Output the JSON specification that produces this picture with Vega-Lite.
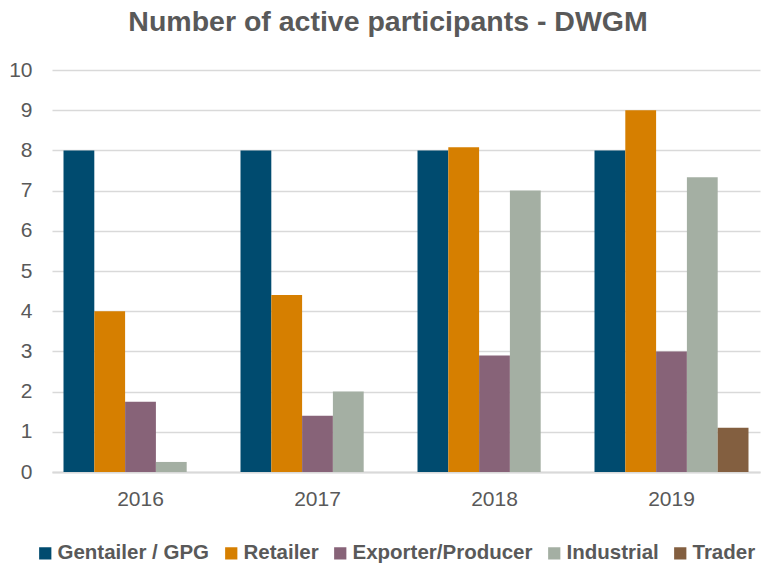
{
  "$schema": "https://vega.github.io/schema/vega-lite/v6.json",
  "width": 708,
  "height": 402,
  "autosize": "none",
  "padding": {"left": 52, "top": 70, "right": 1, "bottom": 91},
  "background": "white",
  "config": {"view": {"stroke": null}},
  "title": {
    "text": "Number of active participants - DWGM",
    "font": "Liberation Sans",
    "fontSize": 28.5,
    "fontWeight": "bold",
    "color": "#595959",
    "anchor": "middle",
    "dx": -18,
    "offset": 23
  },
  "data": {
    "values": [
      {"year": "2016", "type": "Gentailer / GPG", "value": 8},
      {"year": "2016", "type": "Retailer", "value": 4},
      {"year": "2016", "type": "Exporter/Producer", "value": 1.75},
      {"year": "2016", "type": "Industrial", "value": 0.25},
      {"year": "2016", "type": "Trader", "value": 0},
      {"year": "2017", "type": "Gentailer / GPG", "value": 8},
      {"year": "2017", "type": "Retailer", "value": 4.4},
      {"year": "2017", "type": "Exporter/Producer", "value": 1.4},
      {"year": "2017", "type": "Industrial", "value": 2},
      {"year": "2017", "type": "Trader", "value": 0},
      {"year": "2018", "type": "Gentailer / GPG", "value": 8},
      {"year": "2018", "type": "Retailer", "value": 8.08},
      {"year": "2018", "type": "Exporter/Producer", "value": 2.9},
      {"year": "2018", "type": "Industrial", "value": 7},
      {"year": "2018", "type": "Trader", "value": 0},
      {"year": "2019", "type": "Gentailer / GPG", "value": 8},
      {"year": "2019", "type": "Retailer", "value": 9},
      {"year": "2019", "type": "Exporter/Producer", "value": 3},
      {"year": "2019", "type": "Industrial", "value": 7.33},
      {"year": "2019", "type": "Trader", "value": 1.1}
    ]
  },
  "mark": {"type": "bar"},
  "encoding": {
    "x": {
      "field": "year",
      "type": "nominal",
      "scale": {"paddingInner": 0.13, "paddingOuter": 0.065},
      "axis": {
        "title": null,
        "labelAngle": 0,
        "labelFont": "Liberation Sans",
        "labelFontSize": 21,
        "labelColor": "#595959",
        "labelPadding": 16,
        "ticks": false,
        "domainColor": "#d9d9d9",
        "domainWidth": 2
      }
    },
    "xOffset": {
      "field": "type",
      "type": "nominal",
      "sort": ["Gentailer / GPG", "Retailer", "Exporter/Producer", "Industrial", "Trader"],
      "scale": {"paddingInner": 0, "paddingOuter": 0}
    },
    "y": {
      "field": "value",
      "type": "quantitative",
      "scale": {"domain": [0, 10]},
      "axis": {
        "title": null,
        "values": [0, 1, 2, 3, 4, 5, 6, 7, 8, 9, 10],
        "labelFont": "Liberation Sans",
        "labelFontSize": 21,
        "labelColor": "#595959",
        "labelPadding": 20,
        "ticks": false,
        "domain": false,
        "gridColor": "#d9d9d9",
        "gridWidth": 1.5
      }
    },
    "color": {
      "field": "type",
      "type": "nominal",
      "sort": ["Gentailer / GPG", "Retailer", "Exporter/Producer", "Industrial", "Trader"],
      "scale": {
        "domain": ["Gentailer / GPG", "Retailer", "Exporter/Producer", "Industrial", "Trader"],
        "range": ["#004B6F", "#D67F00", "#876378", "#A4AFA3", "#835F40"]
      },
      "legend": {
        "title": null,
        "orient": "none",
        "legendX": -17,
        "legendY": 473,
        "direction": "horizontal",
        "symbolType": "square",
        "symbolSize": 150,
        "symbolStrokeWidth": 0,
        "labelFont": "Liberation Sans",
        "labelFontSize": 20.5,
        "labelFontWeight": "bold",
        "labelColor": "#595959",
        "labelOffset": 2,
        "columnPadding": 11,
        "labelLimit": 300
      }
    }
  }
}
